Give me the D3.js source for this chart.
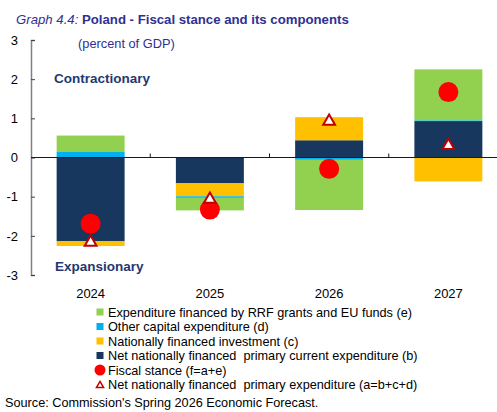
<!DOCTYPE html>
<html>
<head>
<meta charset="utf-8">
<script src="https://cdn.jsdelivr.net/npm/d3@7"></script>
<style>
  body { margin: 0; background: #fff; }
  svg { display: block; font-family: "Liberation Sans", Arial, sans-serif; }
  .legend text { white-space: pre; }
</style>
</head>
<body>
<svg id="chart" width="497" height="412"></svg>
<script>
// values (percent of GDP)
const years = ["2024", "2025", "2026", "2027"];
const netCurrent = [-2.14, -0.66, 0.44, 0.93];      // b
const natInvest = [-0.12, -0.33, 0.59, -0.61];      // c
const otherCapital = [0.14, -0.04, -0.06, 0.02];    // d
const rrfFunds = [0.42, -0.32, -1.28, 1.30];        // e
const fiscalStance = [-1.69, -1.33, -0.29, 1.67];   // f = a + e
const netPrimary = [-2.14, -1.04, 0.95, 0.33];      // a = b + c + d
const yTicks = [-3, -2, -1, 0, 1, 2, 3];

const seriesKeys = ["b", "c", "d", "e"];
const colors = { b: "#17375E", c: "#FFC000", d: "#00B0F0", e: "#92D050" };
const legendItems = [
  { key: "e", label: "Expenditure financed by RRF grants and EU funds (e)", type: "rect" },
  { key: "d", label: "Other capital expenditure (d)", type: "rect" },
  { key: "c", label: "Nationally financed investment (c)", type: "rect" },
  { key: "b", label: "Net nationally financed  primary current expenditure (b)", type: "rect" },
  { key: "f", label: "Fiscal stance (f=a+e)", type: "circle" },
  { key: "a", label: "Net nationally financed  primary expenditure (a=b+c+d)", type: "tri" }
];

const rows = years.map((y, i) => ({
  year: y, b: netCurrent[i], c: natInvest[i], d: otherCapital[i], e: rrfFunds[i]
}));

const svg = d3.select("#chart");
const titleColor = "#2E3192";

// title
const title = svg.append("text").attr("x", 16).attr("y", 24)
  .attr("fill", titleColor).attr("font-size", 13.2);
title.append("tspan").attr("font-style", "italic").text("Graph 4.4: ");
title.append("tspan").attr("font-weight", "bold").text("Poland - Fiscal stance and its components");
svg.append("text").attr("x", 78).attr("y", 48)
  .attr("fill", titleColor).attr("font-size", 12.8).text("(percent of GDP)");

// scales
const x = d3.scaleBand().domain(years).range([31, 508]).paddingInner(0.43).paddingOuter(0.215);
const y = d3.scaleLinear().domain([-3, 3]).range([275, 40]);

// stacked bars
const stacked = d3.stack().keys(seriesKeys).offset(d3.stackOffsetDiverging)(rows);
svg.append("g").selectAll("g")
  .data(stacked).join("g")
  .attr("fill", d => colors[d.key])
  .selectAll("rect")
  .data(d => d).join("rect")
  .attr("x", d => x(d.data.year))
  .attr("width", x.bandwidth())
  .attr("y", d => y(Math.max(d[0], d[1])))
  .attr("height", d => Math.abs(y(d[0]) - y(d[1])));

// y axis
const yAxis = svg.append("g").attr("transform", "translate(31,0)")
  .call(d3.axisRight(y).tickValues(yTicks).tickSize(4).tickFormat(d3.format("d")));
yAxis.select(".domain").attr("stroke", "#808080").attr("stroke-width", 1.5);
yAxis.selectAll(".tick line").attr("stroke", "#404040");
yAxis.selectAll(".tick text").attr("x", -13).attr("text-anchor", "end")
  .attr("font-size", 13).attr("fill", "#000")
  .text(d => d < 0 ? "-" + Math.abs(d) : d);

// zero line with category ticks
svg.append("line").attr("x1", 31).attr("x2", 497)
  .attr("y1", y(0)).attr("y2", y(0)).attr("stroke", "#1a1a1a").attr("stroke-width", 1.2);
svg.append("g").selectAll("line")
  .data(years.slice(1)).join("line")
  .attr("x1", d => x(d) - x.step() * x.paddingInner() / 2)
  .attr("x2", d => x(d) - x.step() * x.paddingInner() / 2)
  .attr("y1", y(0)).attr("y2", y(0) - 4)
  .attr("stroke", "#1a1a1a");

// x labels
svg.append("g").selectAll("text")
  .data(years).join("text")
  .attr("x", d => x(d) + x.bandwidth() / 2).attr("y", 298)
  .attr("text-anchor", "middle").attr("font-size", 13).text(d => d);

// annotations
svg.append("text").attr("x", 54).attr("y", 83).attr("font-weight", "bold")
  .attr("font-size", 13.5).attr("fill", "#1F3872").text("Contractionary");
svg.append("text").attr("x", 55).attr("y", 271).attr("font-weight", "bold")
  .attr("font-size", 13.5).attr("fill", "#1F3872").text("Expansionary");

// markers
const tri = d3.symbol().type(d3.symbolTriangle).size(60);
svg.append("g").selectAll("circle")
  .data(fiscalStance).join("circle")
  .attr("cx", (d, i) => x(years[i]) + x.bandwidth() / 2)
  .attr("cy", d => y(d)).attr("r", 10).attr("fill", "#FF0000");
svg.append("g").selectAll("path")
  .data(netPrimary).join("path")
  .attr("d", tri)
  .attr("transform", (d, i) => `translate(${x(years[i]) + x.bandwidth() / 2},${y(d) + 1})`)
  .attr("fill", "#fff").attr("stroke", "#C00000").attr("stroke-width", 2);

// legend
const lg = svg.append("g").attr("class", "legend").attr("transform", "translate(100,312)");
const item = lg.selectAll("g").data(legendItems).join("g")
  .attr("transform", (d, i) => `translate(0,${i * 14.5})`);
item.filter(d => d.type === "rect").append("rect")
  .attr("x", -3.5).attr("y", -3.5).attr("width", 7).attr("height", 7)
  .attr("fill", d => colors[d.key]);
item.filter(d => d.type === "circle").append("circle")
  .attr("r", 5.5).attr("fill", "#FF0000");
item.filter(d => d.type === "tri").append("path")
  .attr("d", d3.symbol().type(d3.symbolTriangle).size(22))
  .attr("transform", "translate(0,1)")
  .attr("fill", "#fff").attr("stroke", "#C00000").attr("stroke-width", 1.5);
item.append("text").attr("x", 8).attr("y", 4.5)
  .attr("font-size", 12.7).text(d => d.label);

// source
svg.append("text").attr("x", 5).attr("y", 407).attr("font-size", 12.7)
  .text("Source: Commission's Spring 2026 Economic Forecast.");
</script>
</body>
</html>
